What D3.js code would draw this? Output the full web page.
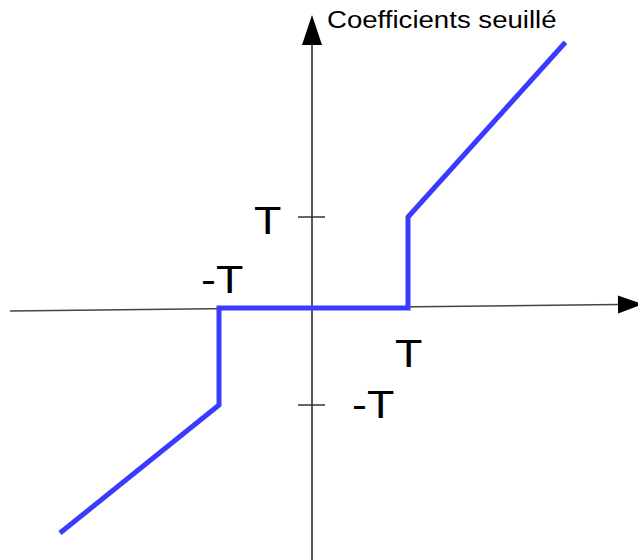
<!DOCTYPE html>
<html>
<head>
<meta charset="utf-8">
<script src="https://cdn.jsdelivr.net/npm/d3@7"></script>
<style>
  html, body { margin: 0; padding: 0; background: #fff; }
  text { font-family: "Liberation Sans", Arial, sans-serif; fill: #000; }
</style>
</head>
<body>
<div id="chart"></div>
<script>
// Seuillage dur : points de la courbe (unités de T)
const curveX = [-2.71, -1, -1, 1, 1, 2.64];
const curveY = [-2.32, -1, 0, 0, 1, 2.92];

// Graduations
const tickValues = [1, -1];
const tickLabels = ["T", "-T"];
const axisTitle = "Coefficients seuillé";

// Dimensions
const width = 638;
const height = 560;

const svg = d3.select("#chart")
    .append("svg")
    .attr("width", width)
    .attr("height", height);

// Echelles (dessin à main levée, pas tout à fait symétrique)
const x = d3.scaleLinear().domain([-1, 0, 1]).range([219, 312, 408]);
const y = d3.scaleLinear().domain([-1, 0, 1]).range([405, 308, 217]);

// axe horizontal (légèrement incliné dans l'original)
const hx0 = x.invert(10), hx1 = x.invert(618);
const hy0 = y.invert(311), hy1 = y.invert(304.5);
svg.append("line")
    .attr("x1", x(hx0)).attr("y1", y(hy0))
    .attr("x2", x(hx1)).attr("y2", y(hy1))
    .attr("stroke", "#444")
    .attr("stroke-width", 1.5);

const ang = Math.atan2(y(hy1) - y(hy0), x(hx1) - x(hx0)) * 180 / Math.PI;
svg.append("path")
    .attr("d", "M0,-9 L25,0 L0,9 Z")
    .attr("transform", `translate(${x(hx1)},${y(hy1)}) rotate(${ang})`)
    .attr("fill", "#000");

// axe vertical
svg.append("line")
    .attr("x1", x(0)).attr("y1", height)
    .attr("x2", x(0)).attr("y2", 44)
    .attr("stroke", "#222")
    .attr("stroke-width", 1.5);

svg.append("path")
    .attr("d", `M${x(0) - 10},45 L${x(0)},15 L${x(0) + 10},45 Z`)
    .attr("fill", "#000");

// graduations sur l'axe vertical
svg.selectAll("line.tick")
    .data(tickValues)
    .enter()
    .append("line")
    .attr("class", "tick")
    .attr("x1", x(0) - 14)
    .attr("x2", x(0) + 13)
    .attr("y1", d => y(d))
    .attr("y2", d => y(d))
    .attr("stroke", "#333")
    .attr("stroke-width", 1.5);

// courbe
const pts = curveX.map((v, i) => [v, curveY[i]]);
svg.append("path")
    .datum(pts)
    .attr("d", d3.line().x(d => x(d[0])).y(d => y(d[1])))
    .attr("fill", "none")
    .attr("stroke", "#3b3bff")
    .attr("stroke-width", 5)
    .attr("stroke-linejoin", "miter");

// Labels (texte étiré horizontalement comme l'original)
const labels = [
    { text: tickLabels[0], px: x(0) - 58, py: y(tickValues[0]) + 17 },  // T sur l'axe vertical
    { text: tickLabels[1], px: x(0) + 40, py: y(tickValues[1]) + 13 },  // -T sur l'axe vertical
    { text: tickLabels[0], px: x(tickValues[0]) - 13, py: y(0) + 59 },  // T sur l'axe horizontal
    { text: tickLabels[1], px: x(tickValues[1]) - 18, py: y(0) - 15 }   // -T sur l'axe horizontal
];

svg.selectAll("text.lbl")
    .data(labels)
    .enter()
    .append("text")
    .attr("class", "lbl")
    .attr("transform", d => `translate(${d.px},${d.py}) scale(1.15,1)`)
    .style("font-size", "39px")
    .text(d => d.text);

// Titre de l'axe
svg.append("text")
    .attr("transform", `translate(${x(0) + 15},28) scale(1.15,1)`)
    .style("font-size", "24px")
    .text(axisTitle);
</script>
</body>
</html>
